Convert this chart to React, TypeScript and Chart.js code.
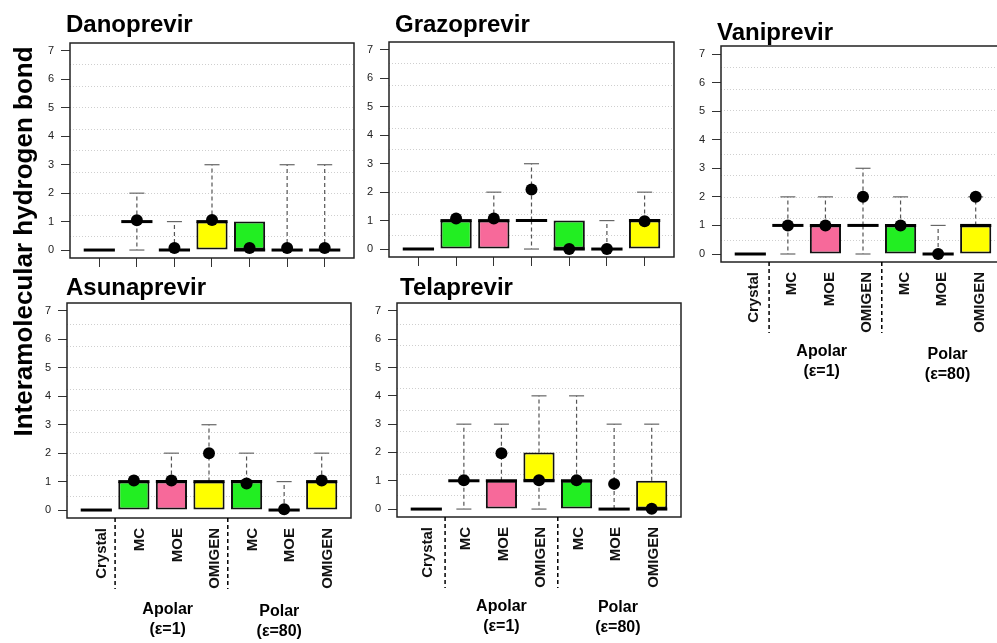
import React, { useEffect, useRef } from "react";
import { Chart, registerables } from "chart.js";

Chart.register(...registerables);

const FONT = "'Liberation Sans', Arial, Helvetica, sans-serif";

// ---------- shared labels ----------
const categories = ["Crystal", "MC", "MOE", "OMIGEN", "MC", "MOE", "OMIGEN"];
const yTickValues = [0, 1, 2, 3, 4, 5, 6, 7];
const boxColors = ["#ffffff", "#22ee22", "#f7699a", "#ffff00", "#22ee22", "#f7699a", "#ffff00"];
const groupNames = ["Apolar", "Polar"];
const groupSubtitles = ["(ε=1)", "(ε=80)"];
const separatorsAt = [1.5, 4.5];
const yAxisTitle = "Interamolecular hydrogen bond";

// ---------- Danoprevir ----------
const danoLow = [0, 0, 0, 0, 0, 0, 0];
const danoQ1 = [0, 1, 0, 0, 0, 0, 0];
const danoMed = [0, 1, 0, 1, 0, 0, 0];
const danoQ3 = [0, 1, 0, 1, 1, 0, 0];
const danoHigh = [0, 2, 1, 3, 1, 3, 3];
const danoMean = [null, 1.05, 0.07, 1.06, 0.07, 0.07, 0.07];

// ---------- Grazoprevir ----------
const grazoLow = [0, 0, 0, 0, 0, 0, 0];
const grazoQ1 = [0, 0, 0, 1, 0, 0, 0];
const grazoMed = [0, 1, 1, 1, 0, 0, 1];
const grazoQ3 = [0, 1, 1, 1, 1, 0, 1];
const grazoHigh = [0, 1, 2, 3, 1, 1, 2];
const grazoMean = [null, 1.07, 1.07, 2.09, 0.0, 0.0, 0.98];

// ---------- Vaniprevir ----------
const vaniLow = [0, 0, 0, 0, 0, 0, 0];
const vaniQ1 = [0, 1, 0, 1, 0, 0, 0];
const vaniMed = [0, 1, 1, 1, 1, 0, 1];
const vaniQ3 = [0, 1, 1, 1, 1, 0, 1];
const vaniHigh = [0, 2, 2, 3, 2, 1, 2];
const vaniMean = [null, 1.0, 1.0, 2.0, 1.0, 0.0, 2.0];

// ---------- Asunaprevir ----------
const asunaLow = [0, 0, 0, 0, 0, 0, 0];
const asunaQ1 = [0, 0, 0, 0, 0, 0, 0];
const asunaMed = [0, 1, 1, 1, 1, 0, 1];
const asunaQ3 = [0, 1, 1, 1, 1, 0, 1];
const asunaHigh = [0, 1, 2, 3, 2, 1, 2];
const asunaMean = [null, 1.04, 1.04, 2.0, 0.93, 0.03, 1.04];

// ---------- Telaprevir ----------
const telaLow = [0, 0, 0, 0, 0, 0, 0];
const telaQ1 = [0, 1, 0, 1, 0, 0, 0];
const telaMed = [0, 1, 1, 1, 1, 0, 0];
const telaQ3 = [0, 1, 1, 2, 1, 0, 1];
const telaHigh = [0, 3, 3, 4, 4, 3, 3];
const telaMean = [null, 1.02, 1.97, 1.02, 1.02, 0.89, 0.01];

// R-style extended ranges
const X_MIN = 0.22;
const X_MAX = 7.78;
const Y_MIN = -0.28;
const Y_MAX = 7.28;
const BOX_FRACTION = 0.83;

type Panel = {
  title: string;
  low: number[];
  q1: number[];
  med: number[];
  q3: number[];
  high: number[];
  mean: (number | null)[];
  box: { left: number; top: number; width: number; height: number };
  pad: { left: number; top: number; right: number; bottom: number };
  xH: number;
  titleDX: number;
  titleDY: number;
  showLabels: boolean;
  labelOffset: number;
  groupX: number[];
  groupDY: number[];
  yTitle: boolean;
};

const panels: Panel[] = [
  {
    title: "Danoprevir",
    low: danoLow, q1: danoQ1, med: danoMed, q3: danoQ3, high: danoHigh, mean: danoMean,
    box: { left: 30, top: 0, width: 330, height: 290 },
    pad: { left: 0, top: 43, right: 5, bottom: 17 },
    xH: 15, titleDX: -4, titleDY: -11, showLabels: false, labelOffset: 0, groupX: [], groupDY: [], yTitle: false,
  },
  {
    title: "Grazoprevir",
    low: grazoLow, q1: grazoQ1, med: grazoMed, q3: grazoQ3, high: grazoHigh, mean: grazoMean,
    box: { left: 349, top: 0, width: 331, height: 290 },
    pad: { left: 0, top: 42, right: 5, bottom: 18 },
    xH: 15, titleDX: 6, titleDY: -10, showLabels: false, labelOffset: 0, groupX: [], groupDY: [], yTitle: false,
  },
  {
    title: "Vaniprevir",
    low: vaniLow, q1: vaniQ1, med: vaniMed, q3: vaniQ3, high: vaniHigh, mean: vaniMean,
    box: { left: 681, top: 0, width: 330, height: 400 },
    pad: { left: 0, top: 46, right: 5, bottom: 58 },
    xH: 80, titleDX: -4, titleDY: -6, showLabels: true, labelOffset: 4, groupX: [2.9, 6.25], groupDY: [90, 93], yTitle: false,
  },
  {
    title: "Asunaprevir",
    low: asunaLow, q1: asunaQ1, med: asunaMed, q3: asunaQ3, high: asunaHigh, mean: asunaMean,
    box: { left: 0, top: 0, width: 357, height: 643 },
    pad: { left: 27, top: 303, right: 5, bottom: 45 },
    xH: 80, titleDX: -1, titleDY: -8, showLabels: true, labelOffset: 6, groupX: [2.9, 5.87], groupDY: [92, 94], yTitle: true,
  },
  {
    title: "Telaprevir",
    low: telaLow, q1: telaQ1, med: telaMed, q3: telaQ3, high: telaHigh, mean: telaMean,
    box: { left: 357, top: 265, width: 330, height: 378 },
    pad: { left: 0, top: 38, right: 5, bottom: 46 },
    xH: 80, titleDX: 3, titleDY: -8, showLabels: true, labelOffset: 2, groupX: [3.0, 6.1], groupDY: [90, 91], yTitle: false,
  },
];

function makeExtras(p: Panel) {
  return {
    id: "boxExtras",
    afterDatasetDraw(chart: any, args: any) {
      if (args.index !== 0) return;
      const ctx = chart.ctx as CanvasRenderingContext2D;
      const xs = chart.scales.x;
      const ys = chart.scales.y;
      const unit = xs.getPixelForValue(2) - xs.getPixelForValue(1);
      const half = unit * BOX_FRACTION * 0.5;
      const cap = unit * 0.2;
      ctx.save();
      for (let i = 0; i < categories.length; i++) {
        const x = xs.getPixelForValue(i + 1);
        const whisker = (from: number, to: number) => {
          const y0 = ys.getPixelForValue(from);
          const y1 = ys.getPixelForValue(to);
          ctx.strokeStyle = "#555";
          ctx.lineWidth = 1.2;
          ctx.setLineDash([4, 3]);
          ctx.beginPath();
          ctx.moveTo(x, y0);
          ctx.lineTo(x, y1);
          ctx.stroke();
          ctx.setLineDash([]);
          ctx.strokeStyle = "#666";
          ctx.beginPath();
          ctx.moveTo(x - cap, y1);
          ctx.lineTo(x + cap, y1);
          ctx.stroke();
        };
        if (p.high[i] > p.q3[i]) whisker(p.q3[i], p.high[i]);
        if (p.low[i] < p.q1[i]) whisker(p.q1[i], p.low[i]);
        const ym = ys.getPixelForValue(p.med[i]);
        ctx.setLineDash([]);
        ctx.strokeStyle = "#000";
        ctx.lineWidth = 3;
        ctx.beginPath();
        ctx.moveTo(x - half, ym);
        ctx.lineTo(x + half, ym);
        ctx.stroke();
      }
      ctx.restore();
    },
    afterDraw(chart: any) {
      const ctx = chart.ctx as CanvasRenderingContext2D;
      const a = chart.chartArea;
      const xs = chart.scales.x;
      ctx.save();
      // frame
      ctx.strokeStyle = "#222";
      ctx.lineWidth = 1.5;
      ctx.setLineDash([]);
      ctx.strokeRect(a.left, a.top, a.right - a.left, a.bottom - a.top);
      // title
      ctx.fillStyle = "#000";
      ctx.font = `bold 24px ${FONT}`;
      ctx.textAlign = "left";
      ctx.textBaseline = "alphabetic";
      ctx.fillText(p.title, a.left + p.titleDX, a.top + p.titleDY);
      if (p.showLabels) {
        // separators
        ctx.strokeStyle = "#000";
        ctx.lineWidth = 1.5;
        ctx.setLineDash([4, 3]);
        for (const s of separatorsAt) {
          const sx = xs.getPixelForValue(s);
          ctx.beginPath();
          ctx.moveTo(sx, a.bottom);
          ctx.lineTo(sx, a.bottom + 71);
          ctx.stroke();
        }
        ctx.setLineDash([]);
        ctx.font = `bold 16px ${FONT}`;
        ctx.textAlign = "center";
        ctx.textBaseline = "middle";
        for (let g = 0; g < groupNames.length; g++) {
          const gx = xs.getPixelForValue(p.groupX[g]);
          ctx.fillText(groupNames[g], gx, a.bottom + p.groupDY[g]);
          ctx.fillText(groupSubtitles[g], gx, a.bottom + p.groupDY[g] + 20);
        }
      }
      if (p.yTitle) {
        ctx.translate(25, 241.5);
        ctx.rotate(-Math.PI / 2);
        ctx.font = `bold 26px ${FONT}`;
        ctx.textAlign = "center";
        ctx.textBaseline = "middle";
        ctx.fillText(yAxisTitle, 0, 0);
      }
      ctx.restore();
    },
  };
}

function buildConfig(p: Panel): any {
  const boxes = categories.map((_, i) => ({ x: i + 1, y: [p.q1[i], p.q3[i]] }));
  const means = p.mean
    .map((m, i) => (m === null ? null : { x: i + 1, y: m }))
    .filter((d) => d !== null);
  const gridValues = Array.from({ length: 9 }, (_, k) => Y_MIN + ((k + 1) * (Y_MAX - Y_MIN)) / 10);
  return {
    type: "bar",
    data: {
      datasets: [
        {
          type: "bar",
          data: boxes,
          xAxisID: "x",
          yAxisID: "y",
          backgroundColor: boxColors,
          borderColor: "#111",
          borderWidth: (c: any) => {
            const r = c.raw;
            if (!r || !Array.isArray(r.y)) return 2;
            return r.y[1] > r.y[0] ? 2 : 0;
          },
          borderSkipped: false,
          barPercentage: BOX_FRACTION,
          categoryPercentage: 1,
          order: 2,
        },
        {
          type: "scatter",
          data: means,
          xAxisID: "x",
          yAxisID: "y",
          pointRadius: 6,
          pointBackgroundColor: "#000",
          pointBorderWidth: 0,
          showLine: false,
          order: 0,
        },
      ],
    },
    options: {
      animation: false,
      responsive: false,
      devicePixelRatio: 1,
      events: [],
      layout: { padding: p.pad },
      plugins: {
        legend: { display: false },
        tooltip: { enabled: false },
        title: { display: false },
      },
      scales: {
        x: {
          type: "linear",
          position: "bottom",
          min: X_MIN,
          max: X_MAX,
          offset: false,
          afterBuildTicks: (s: any) => {
            s.ticks = categories.map((_, i) => ({ value: i + 1 }));
          },
          afterFit: (s: any) => {
            s.height = p.xH;
          },
          grid: {
            display: !p.showLabels,
            offset: false,
            drawOnChartArea: false,
            drawTicks: !p.showLabels,
            tickLength: 9,
            color: "#333",
            lineWidth: 1,
          },
          border: { display: false },
          ticks: {
            display: p.showLabels,
            autoSkip: false,
            minRotation: 90,
            maxRotation: 90,
            padding: 10,
            labelOffset: p.labelOffset,
            color: "#111",
            font: { family: FONT, size: 15, weight: "bold" },
            callback: (v: any) => categories[Math.round(Number(v)) - 1] ?? "",
          },
        },
        y: {
          type: "linear",
          position: "left",
          min: Y_MIN,
          max: Y_MAX,
          afterBuildTicks: (s: any) => {
            s.ticks = yTickValues.map((v) => ({ value: v }));
          },
          afterFit: (s: any) => {
            s.width = 40;
          },
          grid: {
            drawOnChartArea: false,
            drawTicks: true,
            tickLength: 9,
            color: "#333",
            lineWidth: 1,
          },
          border: { display: false },
          ticks: {
            padding: 7,
            color: "#222",
            font: { family: FONT, size: 11 },
          },
        },
        g: {
          type: "linear",
          position: "left",
          min: Y_MIN,
          max: Y_MAX,
          afterBuildTicks: (s: any) => {
            s.ticks = gridValues.map((v) => ({ value: v }));
          },
          afterFit: (s: any) => {
            s.width = 0;
          },
          ticks: { display: false },
          grid: {
            drawOnChartArea: true,
            drawTicks: false,
            tickLength: 0,
            color: "#cfcfcf",
            lineWidth: 1,
          },
          border: { display: false, dash: [1, 2] },
        },
      },
    },
    plugins: [makeExtras(p)],
  };
}

function PanelChart({ p }: { p: Panel }) {
  const ref = useRef<HTMLCanvasElement>(null);
  useEffect(() => {
    if (!ref.current) return;
    const chart = new Chart(ref.current, buildConfig(p));
    return () => chart.destroy();
  }, [p]);
  return (
    <canvas
      ref={ref}
      width={p.box.width}
      height={p.box.height}
      style={{
        position: "absolute",
        left: p.box.left,
        top: p.box.top,
        width: p.box.width,
        height: p.box.height,
      }}
    />
  );
}

export default function App() {
  return (
    <div
      style={{
        position: "fixed",
        left: 0,
        top: 0,
        width: 997,
        height: 643,
        overflow: "hidden",
        background: "#ffffff",
      }}
    >
      {panels.map((p) => (
        <PanelChart key={p.title} p={p} />
      ))}
    </div>
  );
}
